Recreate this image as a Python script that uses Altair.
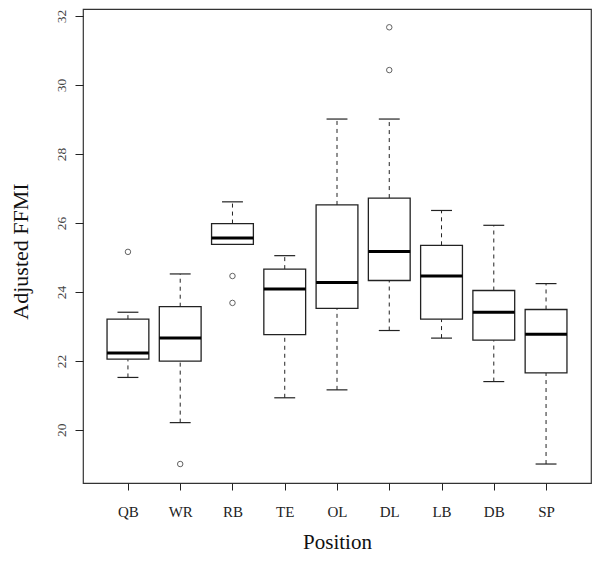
import altair as alt
import pandas as pd

positions = ["QB", "WR", "RB", "TE", "OL", "DL", "LB", "DB", "SP"]
lower_whisker = [21.52, 20.21, 25.38, 20.93, 21.16, 22.88, 22.66, 21.40, 19.01]
q1 = [22.05, 21.99, 25.38, 22.76, 23.52, 24.33, 23.21, 22.60, 21.65]
median = [22.23, 22.66, 25.56, 24.08, 24.27, 25.17, 24.46, 23.41, 22.77]
q3 = [23.21, 23.57, 25.98, 24.66, 26.52, 26.72, 25.35, 24.04, 23.49]
upper_whisker = [23.41, 24.52, 26.61, 25.05, 29.01, 29.01, 26.36, 25.93, 24.24]

outlier_pos = ["QB", "WR", "RB", "RB", "DL", "DL"]
outlier_val = [25.16, 19.01, 24.46, 23.68, 31.67, 30.43]

y_ticks = [20, 22, 24, 26, 28, 30, 32]

idx = list(range(1, len(positions) + 1))
df = pd.DataFrame({
    "pos": positions,
    "i": idx,
    "left": [i - 0.4 for i in idx],
    "right": [i + 0.4 for i in idx],
    "capl": [i - 0.2 for i in idx],
    "capr": [i + 0.2 for i in idx],
    "lo": lower_whisker,
    "q1": q1,
    "med": median,
    "q3": q3,
    "hi": upper_whisker,
})
odf = pd.DataFrame({
    "i": [positions.index(p) + 1 for p in outlier_pos],
    "v": outlier_val,
})

label_array = "[" + ",".join("'%s'" % p for p in positions) + "]"

FONT = "Liberation Serif"
LINE = "#222222"

xscale = alt.Scale(domain=[0.14, 9.86], nice=False, zero=False)
yscale = alt.Scale(domain=[18.46, 32.2], nice=False, zero=False)

xaxis = alt.Axis(
    values=idx,
    labelExpr=label_array + "[datum.value - 1]",
    title="Position",
    grid=False,
    domain=False,
    tickSize=7,
    tickColor=LINE,
    labelFont=FONT,
    labelFontSize=15,
    labelColor="#222222",
    labelPadding=26,
    labelBaseline="alphabetic",
    titleFont=FONT,
    titleFontSize=21,
    titleFontWeight="normal",
    titleColor="#111111",
    titleBaseline="alphabetic",
    titleY=65,
)
yaxis = alt.Axis(
    values=y_ticks,
    title="Adjusted FFMI",
    grid=False,
    domain=False,
    tickSize=8,
    tickColor=LINE,
    labelFont=FONT,
    labelFontSize=13.5,
    labelColor="#444444",
    labelAngle=-90,
    labelAlign="center",
    labelBaseline="alphabetic",
    labelPadding=10,
    titleFont=FONT,
    titleFontSize=22,
    titleFontWeight="normal",
    titleColor="#111111",
    titleAngle=-90,
    titleAlign="center",
    titleBaseline="alphabetic",
    titleX=-56,
    titleY=242,
)

base = alt.Chart(df)

upper_rule = base.mark_rule(color=LINE, strokeWidth=1, strokeDash=[4, 4]).encode(
    x=alt.X("i:Q", scale=xscale, axis=xaxis),
    y=alt.Y("q3:Q", scale=yscale, axis=yaxis),
    y2="hi:Q",
)
lower_rule = base.mark_rule(color=LINE, strokeWidth=1, strokeDash=[4, 4]).encode(
    x=alt.X("i:Q", scale=xscale),
    y=alt.Y("lo:Q", scale=yscale),
    y2="q1:Q",
)
upper_cap = base.mark_rule(color=LINE, strokeWidth=1.2).encode(
    x=alt.X("capl:Q", scale=xscale),
    x2="capr:Q",
    y=alt.Y("hi:Q", scale=yscale),
)
lower_cap = base.mark_rule(color=LINE, strokeWidth=1.2).encode(
    x=alt.X("capl:Q", scale=xscale),
    x2="capr:Q",
    y=alt.Y("lo:Q", scale=yscale),
)
box = base.mark_rect(fill="white", stroke=LINE, strokeWidth=1.3).encode(
    x=alt.X("left:Q", scale=xscale),
    x2="right:Q",
    y=alt.Y("q1:Q", scale=yscale),
    y2="q3:Q",
)
med = base.mark_rule(color="black", strokeWidth=3).encode(
    x=alt.X("left:Q", scale=xscale),
    x2="right:Q",
    y=alt.Y("med:Q", scale=yscale),
)
outl = alt.Chart(odf).mark_point(shape="circle", filled=False, color=LINE, size=30, strokeWidth=1).encode(
    x=alt.X("i:Q", scale=xscale),
    y=alt.Y("v:Q", scale=yscale),
)

chart = alt.layer(upper_rule, lower_rule, upper_cap, lower_cap, box, med, outl).properties(
    width=508,
    height=474,
    autosize=alt.AutoSizeParams(type="none"),
    padding={"left": 75, "top": 1, "right": 1, "bottom": 70},
    background="white",
).configure_view(stroke="#333333", strokeWidth=1.2)

chart.save("out.html", embed_options={"renderer": "svg", "actions": False})
